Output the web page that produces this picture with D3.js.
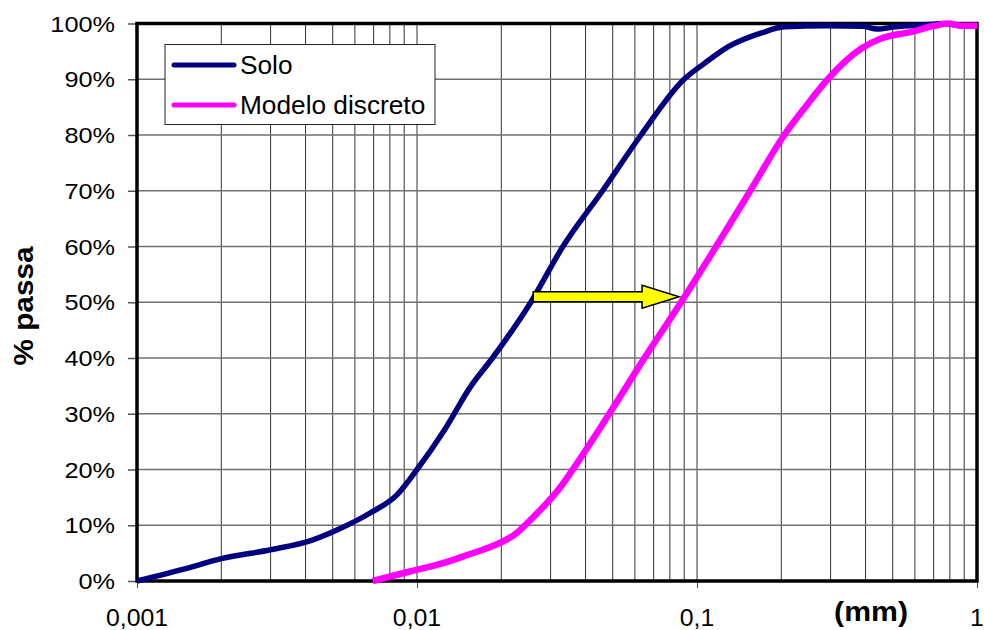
<!DOCTYPE html>
<html>
<head>
<meta charset="utf-8">
<script src="https://cdn.jsdelivr.net/npm/d3@7"></script>
<style>
  html, body { margin: 0; padding: 0; background: #fff; }
  svg { display: block; font-family: "Liberation Sans", Arial, sans-serif; }
</style>
</head>
<body>
<svg id="chart" width="984" height="630"></svg>
<script>
// Grain-size curves: particle diameter (mm) vs. percent passing
const soloDiam = [0.001, 0.00154, 0.002, 0.003, 0.0042, 0.0052, 0.0068, 0.0085, 0.01, 0.0125,
  0.0156, 0.0186, 0.0255, 0.0332, 0.046, 0.0631, 0.0899, 0.106, 0.129,
  0.17, 0.205, 0.29, 0.39, 0.44, 0.51, 0.67, 0.76, 0.88, 1.0];
const soloPass = [0, 2.4, 4.0, 5.6, 7.3, 9.2, 12.2, 15.5, 20, 27,
  35, 40, 50, 60, 70, 80, 90, 92.8, 95.8,
  98.3, 99.4, 99.6, 99.5, 99.0, 99.4, 99.8, 100, 99.6, 99.6];

const modeloDiam = [0.00695, 0.0095, 0.0122, 0.0152, 0.0189, 0.0223, 0.0262, 0.0327, 0.036, 0.0486,
  0.0649, 0.0877, 0.117, 0.155, 0.205, 0.241, 0.293, 0.386, 0.454,
  0.583, 0.705, 0.79, 0.88, 1.0];
const modeloPass = [0, 1.75, 3.1, 4.7, 6.4, 8.3, 11.6, 17.0, 20, 30,
  40, 50, 60, 70, 80, 84.7, 90, 95.5, 97.3,
  98.5, 99.6, 100, 99.6, 99.6];

const seriesNames = ["Solo", "Modelo discreto"];
const xTickValues = [0.001, 0.01, 0.1, 1];
const xTickLabels = ["0,001", "0,01", "0,1", "1"];
const yTickValues = [0, 10, 20, 30, 40, 50, 60, 70, 80, 90, 100];

// D50 shift arrow (from Solo to Modelo discreto)
const arrowFrom = 0.026;
const arrowTo = 0.0863;
const arrowLevel = 51;

const svg = d3.select("#chart");
const plotLeft = 137, plotRight = 977, plotTop = 23.5, plotBottom = 581;

const x = d3.scaleLog().domain([0.001, 1]).range([plotLeft, plotRight]);
const y = d3.scaleLinear().domain([0, 100]).range([plotBottom, plotTop]);

// stretched text helper
function label(g, tx, ty, text, opts) {
  const o = Object.assign({ size: 22, sx: 1.15, anchor: "middle", weight: "normal", rotate: 0 }, opts || {});
  return g.append("g")
    .attr("transform", `translate(${tx},${ty}) rotate(${o.rotate}) scale(${o.sx},1)`)
    .append("text")
    .attr("text-anchor", o.anchor)
    .attr("font-size", o.size)
    .attr("font-weight", o.weight)
    .attr("fill", "#000")
    .text(text);
}

// vertical grid at every log minor value
const minor = [];
[0.001, 0.01, 0.1].forEach(dec => { for (let k = 1; k <= 9; k++) minor.push(dec * k); });
minor.push(1);
svg.append("g").selectAll("line").data(minor).join("line")
  .attr("x1", d => x(d)).attr("x2", d => x(d))
  .attr("y1", plotTop).attr("y2", plotBottom)
  .attr("stroke", "#333").attr("stroke-width", 1);

// horizontal grid
svg.append("g").selectAll("line").data(yTickValues).join("line")
  .attr("x1", plotLeft).attr("x2", plotRight)
  .attr("y1", d => y(d)).attr("y2", d => y(d))
  .attr("stroke", "#707070").attr("stroke-width", 1.5);

// axes
const yAxis = d3.axisLeft(y).tickValues(yTickValues).tickSize(9).tickFormat("");
const gy = svg.append("g").attr("transform", `translate(${plotLeft},0)`).call(yAxis);
gy.select(".domain").remove();
gy.selectAll(".tick line").attr("stroke", "#555").attr("stroke-width", 1.5);

const xAxis = d3.axisBottom(x).tickValues(xTickValues).tickSize(7).tickFormat("");
const gx = svg.append("g").attr("transform", `translate(0,${plotBottom})`).call(xAxis);
gx.select(".domain").remove();
gx.selectAll(".tick line").attr("stroke", "#555").attr("stroke-width", 1);

// tick labels
const labels = svg.append("g");
yTickValues.forEach(v => {
  label(labels, 115, y(v) + 8, v + "%", { anchor: "end", size: 22, sx: 1.15 });
});
xTickValues.forEach((v, i) => {
  label(labels, x(v), 626, xTickLabels[i], { anchor: "middle", size: 23, sx: 1.08 });
});

// axis titles
label(labels, 33, 306, "% passa", { anchor: "middle", size: 27, sx: 1.1, weight: "bold", rotate: -90 });
label(labels, 871, 621, "(mm)", { anchor: "middle", size: 27, sx: 1.12, weight: "bold" });

// plot frame
svg.append("rect")
  .attr("x", plotLeft).attr("y", plotTop)
  .attr("width", plotRight - plotLeft).attr("height", plotBottom - plotTop)
  .attr("fill", "none").attr("stroke", "#000").attr("stroke-width", 3.5);

// curves
const line = d3.line().x(d => x(d[0])).y(d => y(d[1])).curve(d3.curveMonotoneX);

svg.append("path")
  .datum(soloDiam.map((d, i) => [d, soloPass[i]]))
  .attr("d", line).attr("fill", "none")
  .attr("stroke", "#000080").attr("stroke-width", 5.5).attr("stroke-linejoin", "round");

svg.append("path")
  .datum(modeloDiam.map((d, i) => [d, modeloPass[i]]))
  .attr("d", line).attr("fill", "none")
  .attr("stroke", "#ff00ff").attr("stroke-width", 6.5).attr("stroke-linejoin", "round");

// arrow
const ax0 = x(arrowFrom), ax1 = x(arrowTo), ay = y(arrowLevel);
const bodyH = 5, headH = 11.5, headL = 37;
const arrowPts = [
  [ax0, ay - bodyH], [ax1 - headL, ay - bodyH], [ax1 - headL, ay - headH],
  [ax1, ay], [ax1 - headL, ay + headH], [ax1 - headL, ay + bodyH], [ax0, ay + bodyH]
];
svg.append("path")
  .attr("d", "M" + arrowPts.map(p => p.join(",")).join("L") + "Z")
  .attr("fill", "#ffff00").attr("stroke", "#000").attr("stroke-width", 1.5)
  .attr("stroke-linejoin", "miter");

// legend
const legend = svg.append("g");
legend.append("rect")
  .attr("x", 165).attr("y", 44.5).attr("width", 270).attr("height", 80)
  .attr("fill", "#fff").attr("stroke", "#222").attr("stroke-width", 1);
const legendColors = ["#000080", "#ff00ff"];
seriesNames.forEach((name, i) => {
  const ly = 65 + i * 40;
  legend.append("line")
    .attr("x1", 174).attr("x2", 234).attr("y1", ly).attr("y2", ly)
    .attr("stroke", legendColors[i]).attr("stroke-width", 5).attr("stroke-linecap", "round");
  label(legend, 240, ly + 9, name, { anchor: "start", size: 25, sx: 1.05 });
});
</script>
</body>
</html>
